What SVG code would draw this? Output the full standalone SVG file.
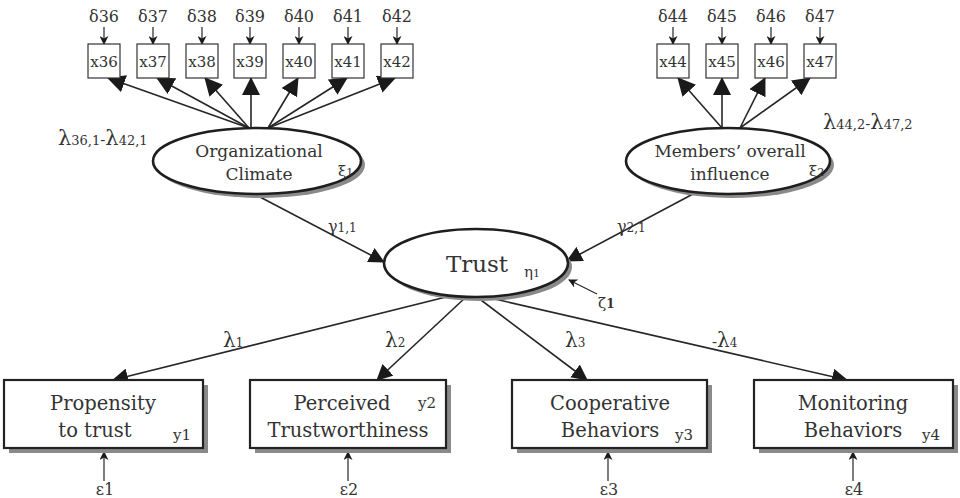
<svg xmlns="http://www.w3.org/2000/svg" width="960" height="498" viewBox="0 0 960 498">
  <style>
    text { font-family: "DejaVu Serif", "Liberation Serif", serif; fill: #333; }
    .box { fill: #fff; stroke: #222; stroke-width: 2.2; }
    .sbox { fill: #fff; stroke: #333; stroke-width: 1.2; }
    .shadow { fill: #8a8a8a; }
    .ell { fill: #fff; stroke: #1e1e1e; stroke-width: 2.6; }
    .edge { stroke: #262626; stroke-width: 1.6; fill: none; }
    .thin { stroke: #262626; stroke-width: 1.2; fill: none; }
    .lbl { font-size: 19.5px; text-anchor: middle; }
    .elbl { font-size: 17px; text-anchor: middle; }
    .sm { font-size: 15px; }
    .obs { font-size: 15px; text-anchor: middle; }
    .err { font-size: 16px; text-anchor: middle; }
  </style>
  <defs>
    <marker id="big" viewBox="0 0 18 18" refX="17" refY="9" markerWidth="18" markerHeight="18" markerUnits="userSpaceOnUse" orient="auto">
      <path d="M0,0 L18,9 L0,18 z" fill="#1a1a1a"/>
    </marker>
    <marker id="mid" viewBox="0 0 16 16" refX="15" refY="8" markerWidth="16" markerHeight="16" markerUnits="userSpaceOnUse" orient="auto">
      <path d="M0,0 L16,8 L0,16 z" fill="#1a1a1a"/>
    </marker>
    <marker id="small" viewBox="0 0 10 10" refX="9" refY="5" markerWidth="9" markerHeight="9" markerUnits="userSpaceOnUse" orient="auto">
      <path d="M0,0 L10,5 L0,10 L3,5 z" fill="#1a1a1a"/>
    </marker>
  </defs>

  <!-- connectors -->
  <g id="connectors">
    <!-- indicator loadings, Organizational Climate -->
    <line class="edge" x1="249" y1="128" x2="108" y2="78" marker-end="url(#big)"/>
    <line class="edge" x1="249" y1="128" x2="157" y2="78" marker-end="url(#big)"/>
    <line class="edge" x1="249" y1="128" x2="205" y2="78" marker-end="url(#big)"/>
    <line class="edge" x1="251" y1="128" x2="251" y2="78" marker-end="url(#big)"/>
    <line class="edge" x1="268" y1="128" x2="298" y2="78" marker-end="url(#big)"/>
    <line class="edge" x1="268" y1="128" x2="347" y2="78" marker-end="url(#big)"/>
    <line class="edge" x1="268" y1="128" x2="395" y2="78" marker-end="url(#big)"/>
    <!-- indicator loadings, Members' overall influence -->
    <line class="edge" x1="722" y1="128" x2="678" y2="78" marker-end="url(#big)"/>
    <line class="edge" x1="722" y1="128" x2="722" y2="78" marker-end="url(#big)"/>
    <line class="edge" x1="740" y1="128" x2="765" y2="78" marker-end="url(#big)"/>
    <line class="edge" x1="740" y1="128" x2="810" y2="78" marker-end="url(#big)"/>
    <!-- measurement errors delta -->
    <line class="thin" x1="104" y1="27" x2="104" y2="44" marker-end="url(#small)"/>
    <line class="thin" x1="153" y1="27" x2="153" y2="44" marker-end="url(#small)"/>
    <line class="thin" x1="202" y1="27" x2="202" y2="44" marker-end="url(#small)"/>
    <line class="thin" x1="250" y1="27" x2="250" y2="44" marker-end="url(#small)"/>
    <line class="thin" x1="299" y1="27" x2="299" y2="44" marker-end="url(#small)"/>
    <line class="thin" x1="348" y1="27" x2="348" y2="44" marker-end="url(#small)"/>
    <line class="thin" x1="397" y1="27" x2="397" y2="44" marker-end="url(#small)"/>
    <line class="thin" x1="673" y1="27" x2="673" y2="44" marker-end="url(#small)"/>
    <line class="thin" x1="722" y1="27" x2="722" y2="44" marker-end="url(#small)"/>
    <line class="thin" x1="771" y1="27" x2="771" y2="44" marker-end="url(#small)"/>
    <line class="thin" x1="820" y1="27" x2="820" y2="44" marker-end="url(#small)"/>
    <!-- structural paths -->
    <line class="edge" x1="260" y1="197" x2="384" y2="262" marker-end="url(#mid)"/>
    <line class="edge" x1="693" y1="194" x2="567" y2="261" marker-end="url(#mid)"/>
    <line class="thin" x1="597" y1="294" x2="569" y2="280" marker-end="url(#small)"/>
    <!-- Trust to outcomes -->
    <line class="edge" x1="450" y1="296" x2="113" y2="380" marker-end="url(#mid)"/>
    <line class="edge" x1="466" y1="297" x2="377" y2="380" marker-end="url(#mid)"/>
    <line class="edge" x1="477" y1="297" x2="587" y2="380" marker-end="url(#mid)"/>
    <line class="edge" x1="486" y1="297" x2="847" y2="380" marker-end="url(#mid)"/>
    <!-- measurement errors epsilon -->
    <line class="thin" x1="104" y1="481" x2="104" y2="452" marker-end="url(#small)"/>
    <line class="thin" x1="348" y1="481" x2="348" y2="452" marker-end="url(#small)"/>
    <line class="thin" x1="608" y1="481" x2="608" y2="452" marker-end="url(#small)"/>
    <line class="thin" x1="853" y1="481" x2="853" y2="452" marker-end="url(#small)"/>
  </g>

  <!-- observed indicators x36..x42 -->
  <g id="x36"><rect class="sbox" x="88" y="44" width="32" height="34"/><text class="obs" x="104" y="67">x36</text><text class="err" x="104" y="22">δ36</text></g>
  <g id="x37"><rect class="sbox" x="137" y="44" width="32" height="34"/><text class="obs" x="153" y="67">x37</text><text class="err" x="153" y="22">δ37</text></g>
  <g id="x38"><rect class="sbox" x="186" y="44" width="32" height="34"/><text class="obs" x="202" y="67">x38</text><text class="err" x="202" y="22">δ38</text></g>
  <g id="x39"><rect class="sbox" x="234" y="44" width="32" height="34"/><text class="obs" x="250" y="67">x39</text><text class="err" x="250" y="22">δ39</text></g>
  <g id="x40"><rect class="sbox" x="283" y="44" width="32" height="34"/><text class="obs" x="299" y="67">x40</text><text class="err" x="299" y="22">δ40</text></g>
  <g id="x41"><rect class="sbox" x="332" y="44" width="32" height="34"/><text class="obs" x="348" y="67">x41</text><text class="err" x="348" y="22">δ41</text></g>
  <g id="x42"><rect class="sbox" x="381" y="44" width="32" height="34"/><text class="obs" x="397" y="67">x42</text><text class="err" x="397" y="22">δ42</text></g>

  <!-- observed indicators x44..x47 -->
  <g id="x44"><rect class="sbox" x="657" y="44" width="32" height="34"/><text class="obs" x="673" y="67">x44</text><text class="err" x="673" y="22">δ44</text></g>
  <g id="x45"><rect class="sbox" x="706" y="44" width="32" height="34"/><text class="obs" x="722" y="67">x45</text><text class="err" x="722" y="22">δ45</text></g>
  <g id="x46"><rect class="sbox" x="755" y="44" width="32" height="34"/><text class="obs" x="771" y="67">x46</text><text class="err" x="771" y="22">δ46</text></g>
  <g id="x47"><rect class="sbox" x="804" y="44" width="32" height="34"/><text class="obs" x="820" y="67">x47</text><text class="err" x="820" y="22">δ47</text></g>

  <!-- loading labels -->
  <g id="loadings-xi1">
    <text x="58" y="145"><tspan font-size="21">λ</tspan><tspan font-size="13">36,1</tspan><tspan font-size="15">-</tspan><tspan font-size="21">λ</tspan><tspan font-size="13">42,1</tspan></text>
  </g>
  <g id="loadings-xi2">
    <text x="823" y="129"><tspan font-size="21">λ</tspan><tspan font-size="13">44,2</tspan><tspan font-size="15">-</tspan><tspan font-size="21">λ</tspan><tspan font-size="13">47,2</tspan></text>
  </g>

  <!-- latent: Organizational Climate -->
  <g id="climate">
    <ellipse cx="261" cy="165" rx="104" ry="33" class="shadow"/>
    <ellipse class="ell" cx="257" cy="161" rx="104" ry="33"/>
    <text class="elbl" x="259" y="157">Organizational</text>
    <text class="elbl" x="259" y="180">Climate</text>
    <text x="338" y="176" font-size="15">ξ<tspan font-size="11">1</tspan></text>
  </g>

  <!-- latent: Members' overall influence -->
  <g id="influence">
    <ellipse cx="732" cy="165" rx="102" ry="33" class="shadow"/>
    <ellipse class="ell" cx="728" cy="161" rx="102" ry="33"/>
    <text class="elbl" x="730" y="157">Members’ overall</text>
    <text class="elbl" x="730" y="180">influence</text>
    <text x="809" y="176" font-size="15">ξ<tspan font-size="11">2</tspan></text>
  </g>

  <!-- latent: Trust -->
  <g id="trust">
    <ellipse cx="480" cy="267" rx="92" ry="34" class="shadow"/>
    <ellipse class="ell" cx="476" cy="263" rx="92" ry="34"/>
    <text x="477" y="272" font-size="23" text-anchor="middle">Trust</text>
    <text x="524" y="277" font-size="15">η<tspan font-size="11">1</tspan></text>
    <text x="598" y="308" font-size="15">ζ<tspan font-size="12" font-weight="bold">1</tspan></text>
  </g>

  <!-- path labels -->
  <g id="path-labels">
    <text x="328" y="232" font-size="16">γ<tspan font-size="12">1,1</tspan></text>
    <text x="617" y="232" font-size="16">γ<tspan font-size="12">2,1</tspan></text>
    <text x="223" y="347" font-size="20">λ<tspan font-size="12">1</tspan></text>
    <text x="385" y="347" font-size="20">λ<tspan font-size="12">2</tspan></text>
    <text x="565" y="347" font-size="20">λ<tspan font-size="12">3</tspan></text>
    <text x="712" y="347" font-size="20"><tspan font-size="15">-</tspan>λ<tspan font-size="12">4</tspan></text>
  </g>

  <!-- outcome: Propensity to trust -->
  <g id="y1">
    <rect class="shadow" x="9" y="385" width="199" height="68"/>
    <rect class="box" x="4" y="380" width="199" height="68"/>
    <text class="lbl" x="103" y="410">Propensity</text>
    <text class="lbl" x="95" y="437">to trust</text>
    <text class="sm" x="173" y="440">y1</text>
    <text class="err" x="105" y="495">ε1</text>
  </g>

  <!-- outcome: Perceived Trustworthiness -->
  <g id="y2">
    <rect class="shadow" x="255" y="385" width="196" height="68"/>
    <rect class="box" x="250" y="380" width="196" height="68"/>
    <text class="lbl" x="342" y="410">Perceived</text>
    <text class="lbl" x="348" y="437">Trustworthiness</text>
    <text class="sm" x="418" y="408">y2</text>
    <text class="err" x="349" y="495">ε2</text>
  </g>

  <!-- outcome: Cooperative Behaviors -->
  <g id="y3">
    <rect class="shadow" x="517" y="385" width="195" height="68"/>
    <rect class="box" x="512" y="380" width="195" height="68"/>
    <text class="lbl" x="610" y="410">Cooperative</text>
    <text class="lbl" x="610" y="437">Behaviors</text>
    <text class="sm" x="675" y="440">y3</text>
    <text class="err" x="609" y="495">ε3</text>
  </g>

  <!-- outcome: Monitoring Behaviors -->
  <g id="y4">
    <rect class="shadow" x="759" y="385" width="199" height="68"/>
    <rect class="box" x="754" y="380" width="199" height="68"/>
    <text class="lbl" x="853" y="410">Monitoring</text>
    <text class="lbl" x="853" y="437">Behaviors</text>
    <text class="sm" x="922" y="440">y4</text>
    <text class="err" x="854" y="495">ε4</text>
  </g>
</svg>
